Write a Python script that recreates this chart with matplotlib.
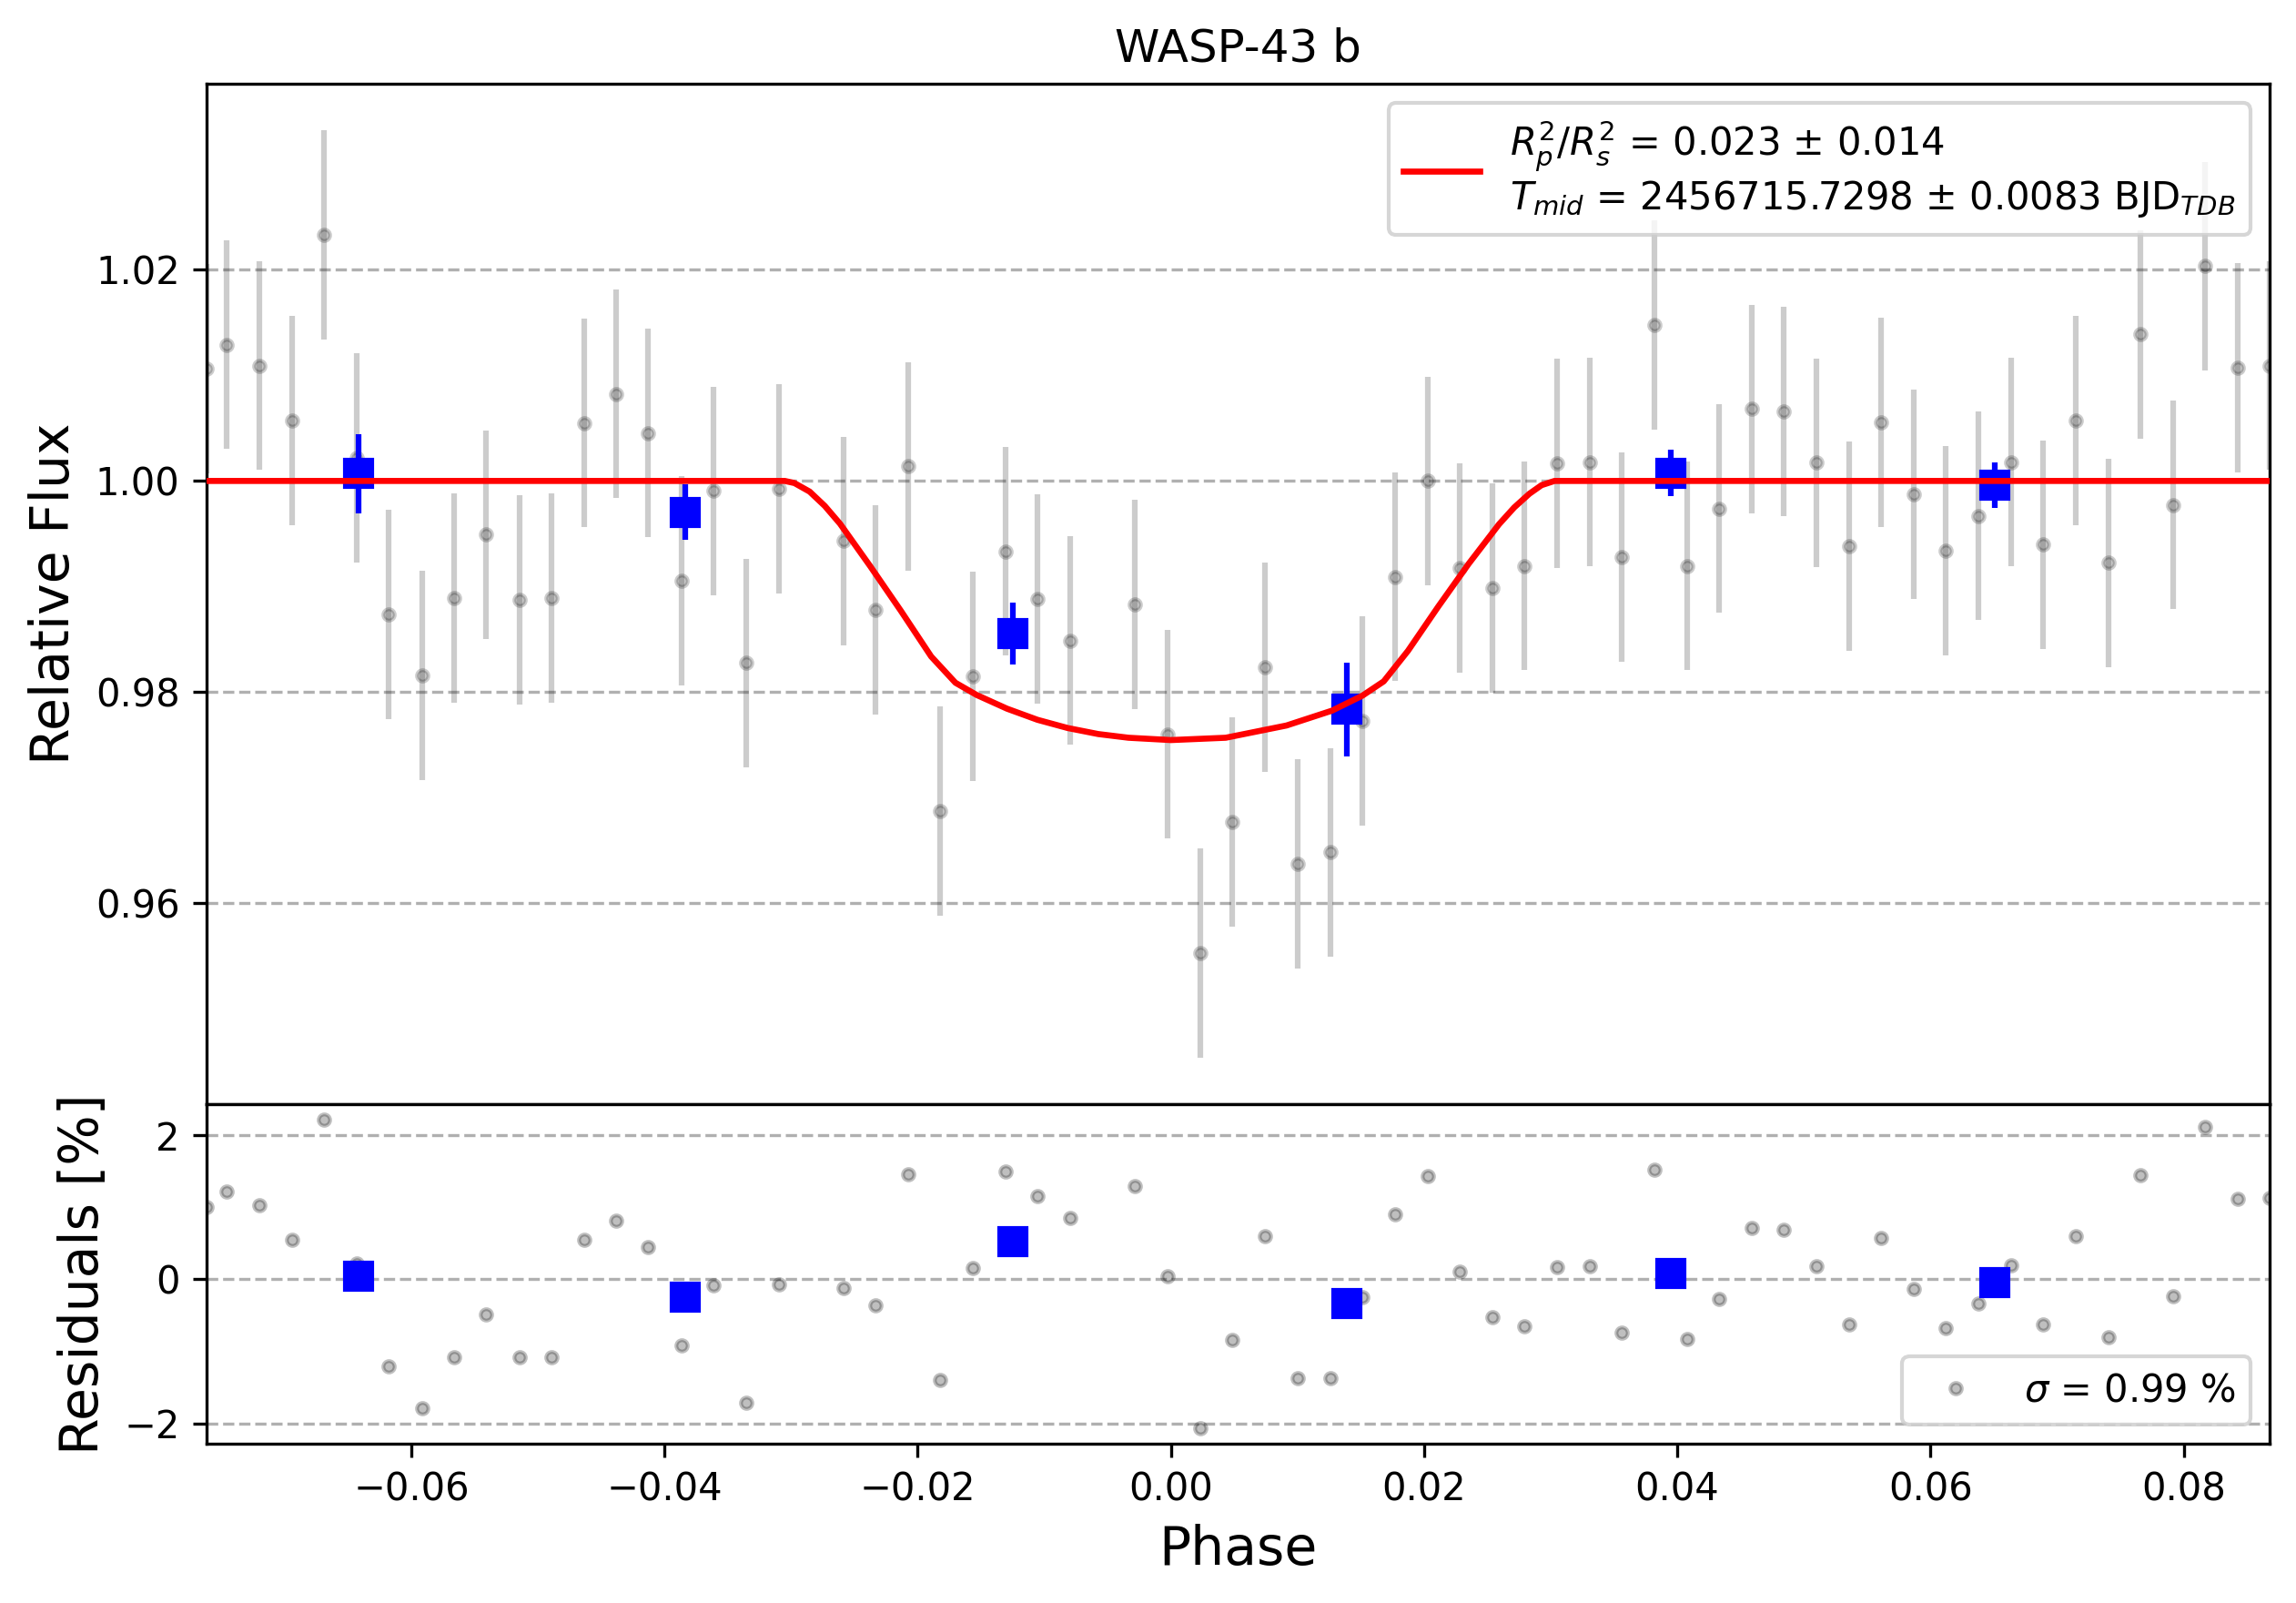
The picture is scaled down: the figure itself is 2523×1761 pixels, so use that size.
import numpy as np
import matplotlib.pyplot as plt

# unbinned data (phase, relative flux, residuals in %)
phase = [-0.07619, -0.07458, -0.07202, -0.06945, -0.06689, -0.06429, -0.06177, -0.05917,
         -0.05665, -0.05409, -0.05148, -0.04896, -0.04636, -0.04384, -0.04128, -0.03868,
         -0.03615, -0.03355, -0.03099, -0.02588, -0.02336, -0.02076, -0.01820, -0.01564,
         -0.01303, -0.01051, -0.00795, -0.00283, -0.00027, 0.00230, 0.00486, 0.00745,
         0.01001, 0.01258, 0.01514, 0.01770, 0.02026, 0.02282, 0.02538, 0.02790,
         0.03047, 0.03306, 0.03560, 0.03818, 0.04076, 0.04330, 0.04589, 0.04838,
         0.05101, 0.05359, 0.05610, 0.05868, 0.06117, 0.06380, 0.06638, 0.06892,
         0.07150, 0.07404, 0.07658, 0.07916, 0.08171, 0.08429, 0.08679]
flux = [1.01065, 1.01292, 1.01093, 1.0057, 1.0233, 1.0022, 0.98735, 0.98158,
        0.98893, 0.99491, 0.98873, 0.98893, 1.0055, 1.00825, 1.00454, 0.99052,
        0.99904, 0.98275, 0.99924, 0.99430, 0.98777, 1.00137, 0.96873, 0.98151,
        0.99333, 0.98880, 0.98488, 0.98832, 0.97601, 0.95526, 0.96770, 0.98234,
        0.96371, 0.96481, 0.97725, 0.99093, 1.00000, 0.99175, 0.98983, 0.99196,
        1.00165, 1.00179, 0.99278, 1.01478, 0.99196, 0.99739, 1.0068, 1.0066,
        1.00172, 0.99381, 1.00557, 0.99876, 0.99340, 0.99670, 1.00179, 0.99395,
        1.0057, 0.99223, 1.01388, 0.99773, 1.02034, 1.01072, 1.01093]
flux_err = 0.0099
resid = [1.00, 1.215, 1.022, 0.544, 2.218, 0.22, -1.215, -1.787,
         -1.079, -0.492, -1.088, -1.088, 0.544, 0.811, 0.441, -0.924,
         -0.089, -1.721, -0.075, -0.127, -0.366, 1.454, -1.402, 0.150,
         1.491, 1.154, 0.849, 1.294, 0.038, -2.073, -0.839, 0.596,
         -1.379, -1.379, -0.253, 0.900, 1.435, 0.108, -0.530, -0.657,
         0.164, 0.178, -0.746, 1.519, -0.835, -0.277, 0.708, 0.685,
         0.178, -0.633, 0.567, -0.136, -0.680, -0.342, 0.192, -0.633,
         0.596, -0.807, 1.444, -0.239, 2.115, 1.116, 1.125]

# binned data
bin_phase = [-0.06417, -0.03835, -0.01246, 0.01390, 0.03949, 0.06509]
bin_flux = [1.00069, 0.99704, 0.98557, 0.97835, 1.00076, 0.99959]
bin_err = [0.00375, 0.00265, 0.00292, 0.00443, 0.00223, 0.00213]
bin_resid = [0.047, -0.253, 0.516, -0.342, 0.084, -0.052]

# transit model
model_phase = [-0.0762, -0.0305, -0.02974, -0.02854, -0.02734, -0.02614, -0.02374, -0.02134,
               -0.01894, -0.01702, -0.01534, -0.01294, -0.01054, -0.00815, -0.00574,
               -0.00335, 0.0, 0.00433, 0.00913, 0.01273, 0.01513, 0.01681, 0.01873,
               0.02112, 0.02352, 0.02592, 0.02712, 0.02832, 0.02928, 0.0303, 0.0869]
model_flux = [1.0, 1.0, 0.9998, 0.99899, 0.99763, 0.99595, 0.99190, 0.98771,
              0.98337, 0.98088, 0.97972, 0.97842, 0.97737, 0.97659, 0.97602,
              0.97567, 0.97545, 0.97567, 0.97683, 0.97824, 0.97966, 0.98101, 0.98391,
              0.98810, 0.99215, 0.99590, 0.99749, 0.99879, 0.9996, 1.0, 1.0]

label_fit = ('$R_{p}^{2}/R_{s}^{2}$ = 0.023 ± 0.014\n'
             '$T_{mid}$ = 2456715.7298 ± 0.0083 BJD$_{TDB}$')

fig = plt.figure(figsize=(8.41, 5.87), dpi=300)
gs = fig.add_gridspec(2, 1, height_ratios=[3, 1], hspace=0,
                      left=0.0899, right=0.9885, top=0.9475, bottom=0.0992)
ax1 = fig.add_subplot(gs[0])
ax2 = fig.add_subplot(gs[1], sharex=ax1)

ax1.errorbar(phase, flux, yerr=flux_err, fmt='o', ms=3, color='black',
             alpha=0.2, elinewidth=1.5, zorder=2)
ax1.errorbar(bin_phase, bin_flux, yerr=bin_err, fmt='s', ms=7, color='blue',
             elinewidth=1.5, zorder=3)
ax1.plot(model_phase, model_flux, 'r-', lw=1.6, label=label_fit, zorder=4)
ax1.set_title('WASP-43 b', fontsize=12)
ax1.set_ylabel('Relative Flux', fontsize=14)
ax1.grid(True, axis='y', ls='--')
ax1.legend(loc='upper right')
ax1.tick_params(axis='x', bottom=False, labelbottom=False)

ax2.plot(phase, resid, 'o', ms=3, color='black', alpha=0.25,
         label='$\\sigma$ = 0.99 %')
ax2.plot(bin_phase, bin_resid, 's', ms=7, color='blue')
ax2.set_yticks([-2, 0, 2])
ax2.grid(True, axis='y', ls='--')
ax2.legend(loc='lower right')
ax2.set_ylabel('Residuals [%]', fontsize=14)
ax2.set_xlabel('Phase', fontsize=14)
ax2.set_xlim(min(phase), max(phase))

plt.savefig('out.png', dpi=300)
